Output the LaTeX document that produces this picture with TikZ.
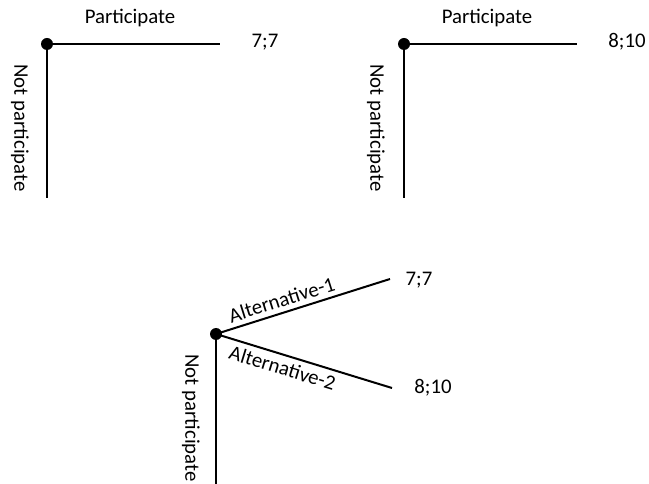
\documentclass[tikz,border=0pt]{standalone}
\usepackage{fontspec}
\setmainfont{Carlito}
\begin{document}
\begin{tikzpicture}[x=0.75pt,y=-0.75pt,line width=1.5pt,
	lbl/.style={font=\fontsize{15.6}{18}\selectfont,inner sep=1pt},
	pay/.style={lbl,anchor=center},
	alt/.style={lbl,pos=0.4,sloped,inner sep=3.5pt},
	dot/.style={circle,fill=black,inner sep=0pt,minimum size=9pt}]
	\useasboundingbox (0,0) rectangle (649,484);
	% game 1
	\node[dot] (n1) at (47,44) {};
	\coordinate (p1) at (220,44);
	\coordinate (q1) at (47,198);
	\draw (n1.center) -- (p1);
	\draw (n1.center) -- (q1);
	\node[lbl] (t1) at (130,18) {Participate};
	\node[lbl,rotate=-90] (s1) at (20,128) {Not participate};
	\node[pay] (v1) at (265,42) {7;7};
	% game 2
	\node[dot] (n2) at (404,44) {};
	\coordinate (p2) at (577,44);
	\coordinate (q2) at (404,198);
	\draw (n2.center) -- (p2);
	\draw (n2.center) -- (q2);
	\node[lbl] (t2) at (487,18) {Participate};
	\node[lbl,rotate=-90] (s2) at (376,128) {Not participate};
	\node[pay] (v2) at (627,42) {8;10};
	% combined game
	\node[dot] (n3) at (216,334) {};
	\coordinate (a1) at (390,279);
	\coordinate (a2) at (392,388);
	\coordinate (q3) at (216,484);
	\draw (n3.center) -- node[alt,above] {Alternative-1} (a1);
	\draw (n3.center) -- node[alt,below] {Alternative-2} (a2);
	\draw (n3.center) -- (q3);
	\node[lbl,rotate=-90] (s3) at (191,418) {Not participate};
	\node[pay] (v3) at (419,280) {7;7};
	\node[pay] (v4) at (433,388) {8;10};
\end{tikzpicture}
\end{document}
